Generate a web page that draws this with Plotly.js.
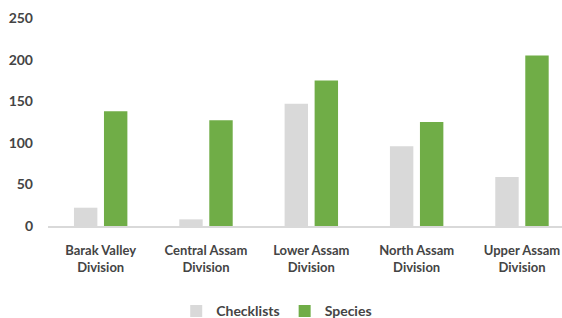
<!DOCTYPE html>
<html><head><meta charset="utf-8">
<script src="https://cdn.plot.ly/plotly-3.0.1.min.js"></script>
<style>body{margin:0;padding:0;background:#fff}#chart{width:562px;height:318px}</style>
</head><body><div id="chart"></div>
<script>
const categories = ["Barak Valley<br>Division","Central Assam<br>Division","Lower Assam<br>Division","North Assam<br>Division","Upper Assam<br>Division"];
const checklists = [22, 8, 147, 96, 59];
const species = [138, 127, 175, 125, 205];
const yTicks = [0, 50, 100, 150, 200, 250];

const fam = "Lato, 'Open Sans', sans-serif";
const txt = "#444444";

const data = [
  {type: "bar", name: "Checklists", x: [0,1,2,3,4], y: checklists, marker: {color: "#d9d9d9"}},
  {type: "bar", name: "Species", x: [0,1,2,3,4], y: species, marker: {color: "#70ad47"}}
];
const layout = {
  width: 562, height: 318,
  margin: {l: 48, r: 0, t: 18, b: 92, autoexpand: false},
  paper_bgcolor: "#fff", plot_bgcolor: "#fff",
  font: {family: fam, size: 14, color: txt, weight: 700},
  barmode: "group", bargap: 0.43, bargroupgap: 0.22,
  xaxis: {range: [-0.5, 4.38], tickvals: [0,1,2,3,4], ticktext: categories, showgrid: false, zeroline: false,
          showline: true, linecolor: "#d9d9d9", linewidth: 1.5, ticks: "", automargin: false,
          ticklabeloverflow: "allow",
          ticklabelstandoff: 12, tickfont: {family: fam, size: 13, color: txt, weight: 700}, fixedrange: true},
  yaxis: {range: [0, 250], tickvals: yTicks, showgrid: false, zeroline: false, showline: false, ticks: "", automargin: false,
          ticklabelstandoff: 14, tickfont: {family: fam, size: 14, color: txt, weight: 700}},
  showlegend: true,
  legend: {orientation: "h", x: 0.445, xanchor: "center", y: -0.41, yanchor: "middle",
           font: {family: fam, size: 14, color: txt, weight: 700}, itemwidth: 30}
};
Plotly.newPlot("chart", data, layout, {displayModeBar: false, staticPlot: true});
</script></body></html>
